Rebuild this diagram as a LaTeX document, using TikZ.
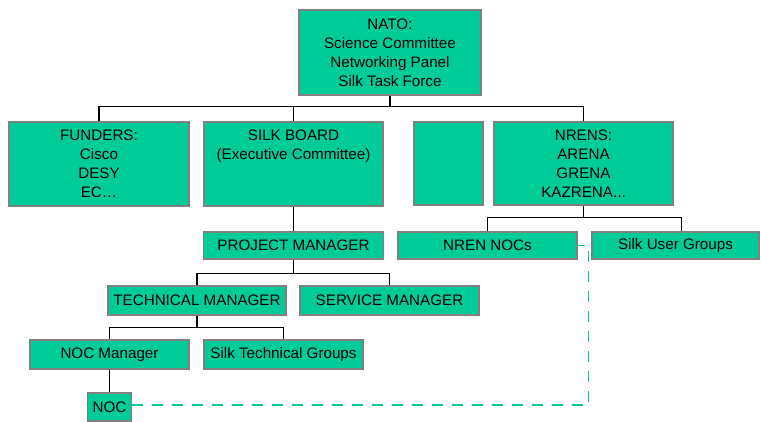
\documentclass[tikz,border=0pt]{standalone}
\usepackage{fontspec}
\setmainfont{Liberation Sans}
\definecolor{silkgreen}{RGB}{0,204,153}
\definecolor{boxgray}{RGB}{128,128,128}
\begin{document}
\begin{tikzpicture}[
    x=1pt, y=-1pt,
    unit/.style={rectangle, draw=boxgray, line width=1.6pt, fill=silkgreen, align=center, inner sep=0pt, font=\fontsize{15.2}{19}\selectfont},
    link/.style={draw=black, line width=1.1pt},
    feed/.style={draw=silkgreen, line width=1.3pt, dash pattern=on 11pt off 9pt}
]
    \useasboundingbox (0,0) rectangle (761,421);

    % Organe
    \node[unit, minimum width=182, minimum height=85] (nato) at (390,52.5) {NATO:\\Science Committee\\Networking Panel\\Silk Task Force};
    \node[unit, minimum width=180, minimum height=84] (funders) at (99,164) {FUNDERS:\\Cisco\\DESY\\EC\ldots};
    \node[unit, minimum width=179, minimum height=84] (board) at (293.5,164) {SILK BOARD\\(Executive Committee)\\\mbox{}\\\mbox{}};
    \node[unit, minimum width=69, minimum height=83] (blank) at (448.5,163.5) {};
    \node[unit, minimum width=179, minimum height=83] (nrens) at (583.5,163.5) {NRENS:\\ARENA\\GRENA\\KAZRENA...};
    \node[unit, minimum width=179, minimum height=27] (nrennocs) at (487.5,245.5) {NREN NOCs};
    \node[unit, minimum width=167, minimum height=27] (sug) at (675.5,245.5) {Silk User Groups};
    \node[unit, minimum width=180, minimum height=27] (pm) at (293.5,245.5) {PROJECT MANAGER};
    \node[unit, minimum width=178, minimum height=29] (tm) at (197,300.5) {TECHNICAL MANAGER};
    \node[unit, minimum width=179, minimum height=29] (sm) at (389.5,300.5) {SERVICE MANAGER};
    \node[unit, minimum width=159, minimum height=29] (nocm) at (109.5,354.5) {NOC Manager};
    \node[unit, minimum width=159, minimum height=29] (stg) at (283.5,354.5) {Silk Technical Groups};
    \node[unit, minimum width=44, minimum height=28] (noc) at (109.5,407) {NOC};

    % Verbindungen
    \draw[link] (nato.south) -- ++(0,11) -| (funders.north);
    \draw[link] (nato.south) -- ++(0,11) -| (board.north);
    \draw[link] (nato.south) -- ++(0,11) -| (nrens.north);
    \draw[link] (board.south) -- (pm.north);
    \draw[link] (pm.south) -- ++(0,14) -| (tm.north);
    \draw[link] (pm.south) -- ++(0,14) -| (sm.north);
    \draw[link] (tm.south) -- ++(0,12) -| (nocm.north);
    \draw[link] (tm.south) -- ++(0,12) -| (stg.north);
    \draw[link] (nrens.south) -- ++(0,12) -| (nrennocs.north);
    \draw[link] (nrens.south) -- ++(0,12) -| ([xshift=6pt]sug.north);
    \draw[link] (nocm.south) -- (noc.north);
    \draw[feed] ([yshift=2pt]noc.east) -| ([xshift=11pt]nrennocs.east) -- (nrennocs.east);
\end{tikzpicture}
\end{document}
